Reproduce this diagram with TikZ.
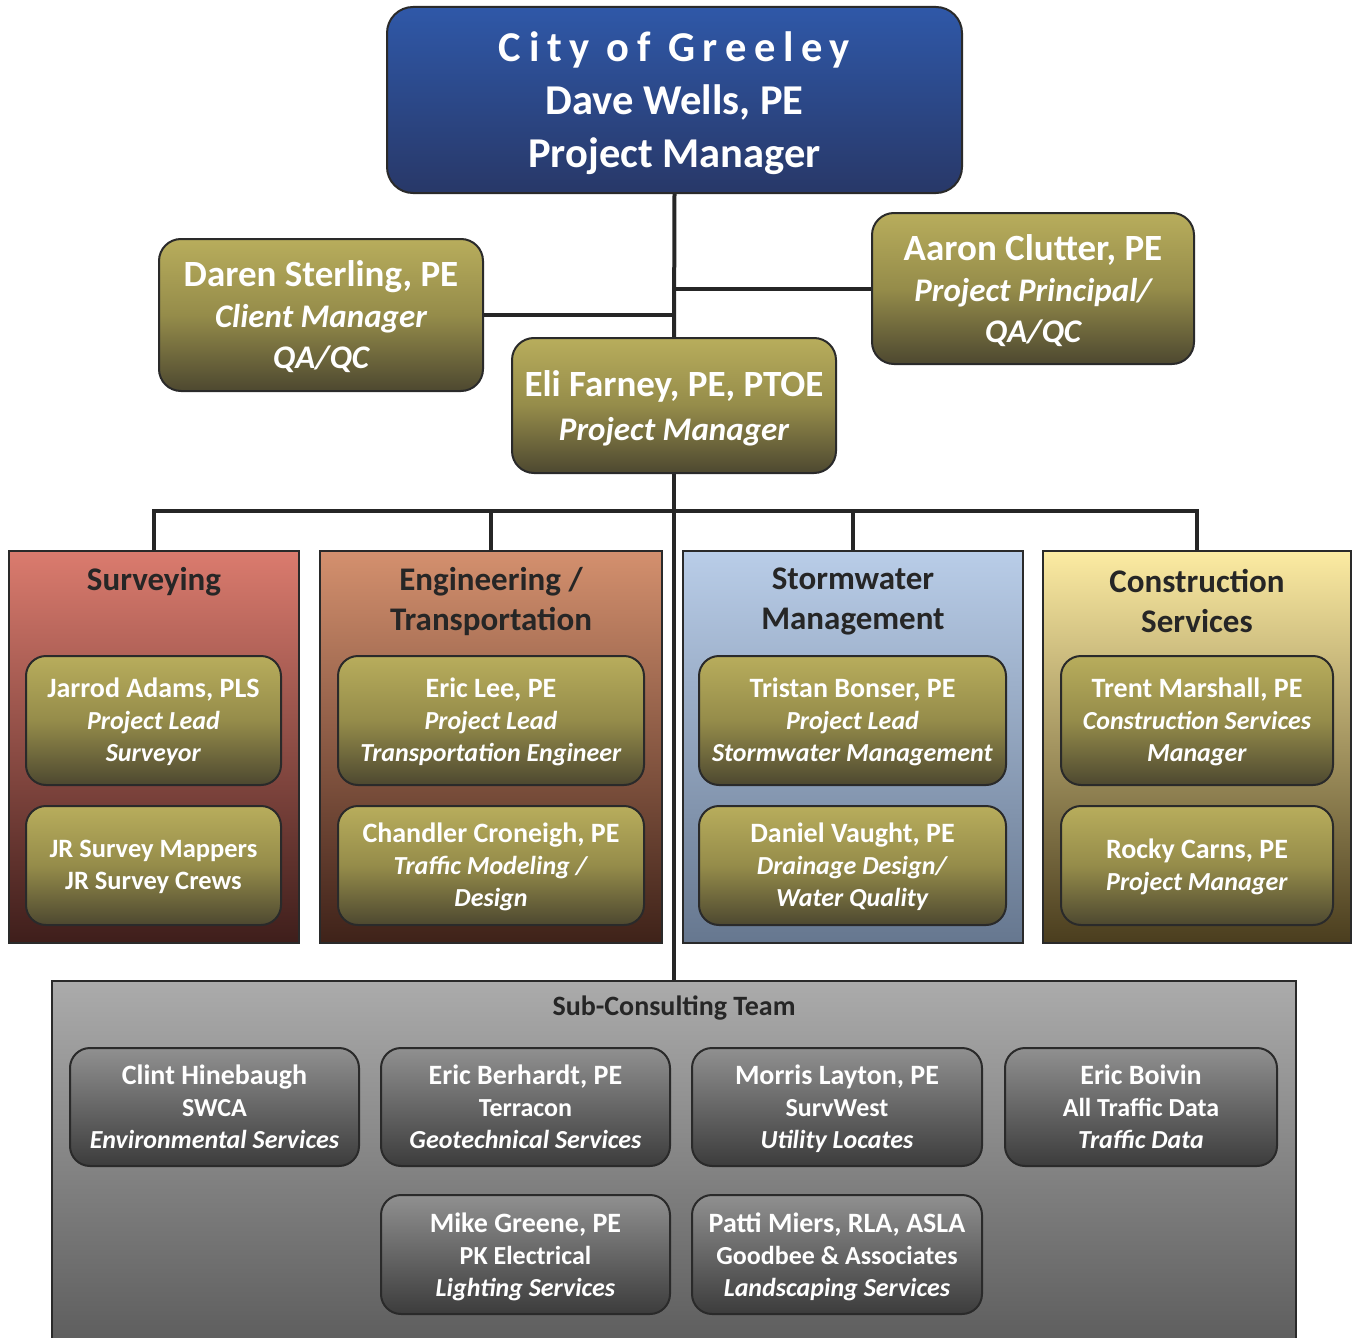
\documentclass[tikz,border=0pt]{standalone}
\usepackage{fontspec}
\setmainfont{Carlito}
\definecolor{blT}{HTML}{2F58A8}
\definecolor{blB}{HTML}{283868}
\definecolor{olT}{HTML}{B8AD5C}
\definecolor{olM}{HTML}{958C4A}
\definecolor{olB}{HTML}{4D4830}
\definecolor{svT}{HTML}{DB7B6E}
\definecolor{svB}{HTML}{3E1E1B}
\definecolor{enT}{HTML}{D4906E}
\definecolor{enB}{HTML}{3E2219}
\definecolor{stT}{HTML}{B9CDE8}
\definecolor{stB}{HTML}{66778F}
\definecolor{coT}{HTML}{FCEBA2}
\definecolor{coB}{HTML}{4A3D1E}
\definecolor{sbT}{HTML}{ABABAB}
\definecolor{sbB}{HTML}{5C5C5C}
\definecolor{gyT}{HTML}{909090}
\definecolor{gyB}{HTML}{3C3C3C}
\definecolor{edge}{HTML}{2A2A2A}
\newcommand\pname[1]{{\fontsize{28}{32}\selectfont #1}}
\newcommand\lrole[1]{{\itshape\fontsize{33}{41}\selectfont #1}}
\tikzset{
  conn/.style={line width=4, draw=black!85},
  base/.style={draw=edge, line width=2, inner sep=0, align=center, text=white},
  citybox/.style={base, rounded corners=26, top color=blT, bottom color=blB, text depth=-1pt,
    font=\bfseries\fontsize{42.5}{53}\selectfont},
  leadbox/.style={base, rounded corners=22, top color=olT, bottom color=olB, middle color=olM,
    text depth=-4pt, font=\bfseries\fontsize{37}{41}\selectfont},
  colbox/.style={draw=edge, line width=2, inner sep=0},
  colhead/.style={inner sep=0, align=center, text=black!85, font=\bfseries\fontsize{33}{40}\selectfont},
  ibox/.style={base, rounded corners=20, top color=olT, bottom color=olB, middle color=olM,
    text depth=2pt, font=\bfseries\fontsize{26}{32}\selectfont},
  gbox/.style={base, rounded corners=20, top color=gyT, bottom color=gyB,
    text depth=-2pt, font=\bfseries\fontsize{26}{32}\selectfont},
}
\begin{document}
\begin{tikzpicture}[x=1pt,y=-1pt]
\useasboundingbox (0,0) rectangle (1353,1338);
\fill[white] (0,0) rectangle (1353,1338);

% top level
\node[citybox, minimum width=575, minimum height=186] (city) at (674.5,100)
  {{\addfontfeatures{LetterSpace=18}City of Greeley}\\Dave Wells, PE\\Project Manager};
\node[leadbox, minimum width=324, minimum height=152] (daren) at (321,315)
  {Daren Sterling, PE\\\lrole{Client Manager}\\\lrole{QA/QC}};
\node[leadbox, minimum width=322, minimum height=151] (aaron) at (1033,288.5)
  {Aaron Clutter, PE\\\lrole{Project Principal/}\\\lrole{QA/QC}};
\node[leadbox, minimum width=324, minimum height=135, text depth=-5pt,
      font=\bfseries\fontsize{37}{44}\selectfont] (eli) at (674,405.5)
  {Eli Farney, PE, PTOE\\\lrole{Project Manager}};

% columns
\node[colbox, top color=svT, bottom color=svB, minimum width=290, minimum height=392] (surv) at (154,747) {};
\node[colbox, top color=enT, bottom color=enB, minimum width=342, minimum height=392] (eng) at (491,747) {};
\node[colbox, top color=stT, bottom color=stB, minimum width=340, minimum height=392] (storm) at (853,747) {};
\node[colbox, top color=coT, bottom color=coB, minimum width=308, minimum height=392] (cons) at (1197,747) {};

\node[colhead] (survh) at (154,582) {Surveying};
\node[colhead] (engh) at (491,601.5) {Engineering /\\Transportation};
\node[colhead] (stormh) at (853,601.5) {Stormwater\\Management};
\node[colhead] (consh) at (1197,601.5) {Construction\\Services};

% inner boxes
\node[ibox, minimum width=255, minimum height=129] (jarrod) at (153.5,720.5)
  {\pname{Jarrod Adams, PLS}\\\textit{Project Lead}\\\textit{Surveyor}};
\node[ibox, minimum width=255, minimum height=119] (jr) at (153.5,865.5)
  {{\fontsize{26.5}{32}\selectfont JR Survey Mappers}\\{\fontsize{26.5}{32}\selectfont JR Survey Crews}};
\node[ibox, minimum width=306, minimum height=129] (lee) at (491,720.5)
  {\pname{Eric Lee, PE}\\\textit{Project Lead}\\\textit{Transportation Engineer}};
\node[ibox, minimum width=306, minimum height=119] (chandler) at (491,865.5)
  {\pname{Chandler Croneigh, PE}\\\textit{Traffic Modeling /}\\\textit{Design}};
\node[ibox, minimum width=307, minimum height=129] (tristan) at (852.5,720.5)
  {\pname{Tristan Bonser, PE}\\\textit{Project Lead}\\\textit{Stormwater Management}};
\node[ibox, minimum width=307, minimum height=119] (daniel) at (852.5,865.5)
  {\pname{Daniel Vaught, PE}\\\textit{Drainage Design/}\\\textit{Water Quality}};
\node[ibox, minimum width=272, minimum height=129] (trent) at (1197,720.5)
  {\pname{Trent Marshall, PE}\\\textit{Construction Services}\\\textit{Manager}};
\node[ibox, minimum width=272, minimum height=119] (rocky) at (1197,865.5)
  {\pname{Rocky Carns, PE}\\\textit{Project Manager}};

% sub-consulting
\node[colbox, top color=sbT, bottom color=sbB, minimum width=1244, minimum height=369] (sub) at (674,1165.5) {};
\node[colhead, font=\bfseries\fontsize{28}{30}\selectfont] (subh) at (674,1008) {Sub-Consulting Team};
\node[gbox, minimum width=289, minimum height=118] (clint) at (214.5,1107)
  {\pname{Clint Hinebaugh}\\SWCA\\\textit{Environmental Services}};
\node[gbox, minimum width=289, minimum height=118] (berhardt) at (525.5,1107)
  {\pname{Eric Berhardt, PE}\\Terracon\\\textit{Geotechnical Services}};
\node[gbox, minimum width=290, minimum height=118] (morris) at (837,1107)
  {\pname{Morris Layton, PE}\\SurvWest\\\textit{Utility Locates}};
\node[gbox, minimum width=272, minimum height=118] (boivin) at (1141,1107)
  {\pname{Eric Boivin}\\All Traffic Data\\\textit{Traffic Data}};
\node[gbox, minimum width=289, minimum height=119] (mike) at (525.5,1254.5)
  {\pname{Mike Greene, PE}\\PK Electrical\\\textit{Lighting Services}};
\node[gbox, minimum width=290, minimum height=119] (patti) at (837,1254.5)
  {\pname{Patti Miers, RLA, ASLA}\\Goodbee \& Associates\\\textit{Landscaping Services}};

% connectors
\coordinate (bus) at (674,511);
\draw[conn] (city.south) -- (eli.north);
\draw[conn] (aaron.west) -- (aaron.west -| city.south);
\draw[conn] (daren.east) -- (daren.east -| city.south);
\draw[conn] (eli.south) -- (sub.north);
\draw[conn] (surv.north) -- (surv.north |- bus) -- (cons.north |- bus) -- (cons.north);
\draw[conn] (eng.north) -- (eng.north |- bus);
\draw[conn] (storm.north) -- (storm.north |- bus);
\end{tikzpicture}
\end{document}
